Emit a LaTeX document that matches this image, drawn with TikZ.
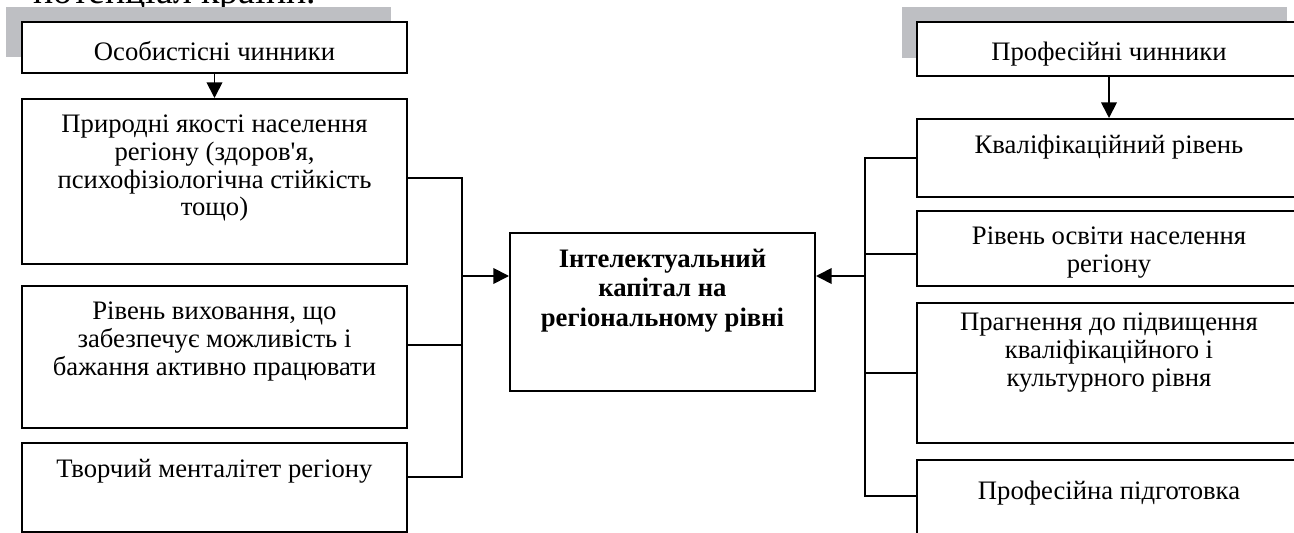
\documentclass[tikz,border=0pt]{standalone}
\usepackage{fontspec}
\setmainfont{Liberation Serif}[Ligatures=TeXOff]
\usetikzlibrary{arrows.meta,fit}
\definecolor{greybar}{RGB}{190,191,195}
\tikzset{
  pbox/.style={draw, line width=0.9pt, inner sep=0pt},
  ptext/.style={anchor=north, align=center, inner sep=0pt, yshift=#1,
    font=\fontsize{12}{12.5}\selectfont},
  ptext/.default=-7.4pt,
  link/.style={line width=0.8pt},
  tip/.style={line width=0.8pt, -{Triangle[length=7pt,width=7pt]}}
}

\begin{document}
\begin{tikzpicture}[x=0.45pt, y=-0.45pt]
\useasboundingbox (0,0) rectangle (1294,533);
\clip (0,0) rectangle (1294,533);
% line of the page above the figure
\node[anchor=base west, inner sep=0pt, font=\fontsize{17}{20}\selectfont] (prev) at (33,4) {потенціал країни.};
% grey shadows behind the headers
\fill[greybar] (6,7) rectangle (391,57);
\fill[greybar] (902,7) rectangle (1287,58);
% headers
\node[pbox, fill=white, fit={(22,22) (407,73)},
  label={[ptext=-9.2pt]north:{Особистісні чинники}}] (hdl) {};
\node[pbox, fill=white, fit={(917,22) (1301,76)},
  label={[ptext=-9.2pt]north:{Професійні чинники}}] (hdr) {};
% personal factors
\node[pbox, fit={(22,99) (407,264)},
  label={[ptext]north:{Природні якості населення\\ регіону (здоров'я,\\ психофізіологічна стійкість\\ тощо)}}] (nat) {};
\node[pbox, fit={(22,286) (407,428)},
  label={[ptext]north:{Рівень виховання, що\\ забезпечує можливість і\\ бажання активно працювати}}] (up) {};
\node[pbox, fit={(22,443) (407,532)},
  label={[ptext]north:{Творчий менталітет регіону}}] (crt) {};
% centre
\node[pbox, fit={(510,233) (815,391)},
  label={[ptext, font=\fontsize{12}{13.3}\selectfont\bfseries]north:{Інтелектуальний\\ капітал на\\ регіональному рівні}}] (cap) {};
% professional factors
\node[pbox, fit={(917,119) (1301,197)},
  label={[ptext]north:{Кваліфікаційний рівень}}] (kv) {};
\node[pbox, fit={(917,211) (1301,286)},
  label={[ptext]north:{Рівень освіти населення\\ регіону}}] (osv) {};
\node[pbox, fit={(917,303) (1301,443)},
  label={[ptext=-4.7pt]north:{Прагнення до підвищення\\ кваліфікаційного і\\ культурного рівня}}] (prg) {};
\node[pbox, fit={(917,460) (1301,538)},
  label={[ptext=-9.6pt]north:{Професійна підготовка}}] (pp) {};
% connectors
\coordinate (lhub) at (462,276);
\coordinate (rhub) at (865,276);
\draw[tip] (hdl.south) -- (nat.north);
\draw[tip] (hdr.south) -- (kv.north);
\draw[link] ([yshift=1.6pt]nat.east) -| (lhub) |- ([yshift=4.7pt]crt.east);
\draw[link] ([yshift=5.4pt]up.east) -| (lhub);
\draw[tip] (lhub) -- (lhub -| cap.west);
\draw[link] (kv.west) -| (rhub) |- ([yshift=1.3pt]pp.west);
\draw[link] ([yshift=-2.5pt]osv.west) -| (rhub);
\draw[link] (prg.west) -| (rhub);
\draw[tip] (rhub) -- (rhub -| cap.east);
\end{tikzpicture}
\end{document}
